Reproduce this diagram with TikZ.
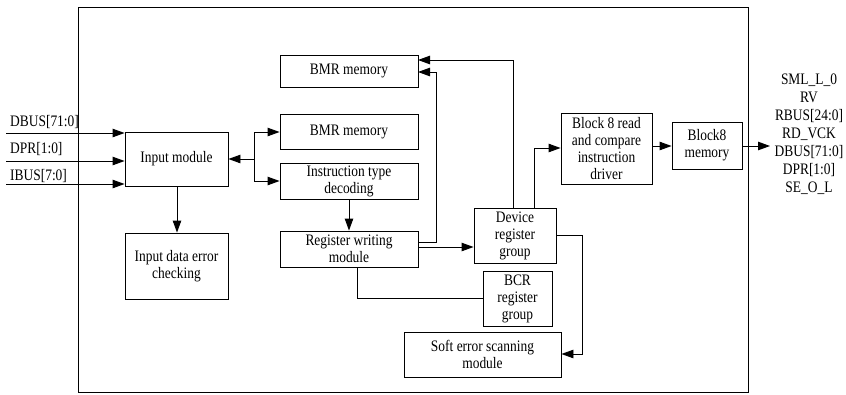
\documentclass[tikz,border=0pt]{standalone}
\usepackage{fontspec}
\setmainfont{Liberation Serif}[FakeStretch=0.84]
\usetikzlibrary{arrows.meta}
\begin{document}
\begin{tikzpicture}[x=1pt,y=-1pt,
  box/.style={draw, line width=0.9pt, inner sep=0pt, align=center, font=\fontsize{16}{17}\selectfont},
  con/.style={line width=0.9pt},
  arr/.style={line width=0.9pt, -{Triangle[length=12pt,width=8.5pt]}},
  lab/.style={font=\fontsize{16}{17}\selectfont, inner sep=0pt}]
\useasboundingbox (0,0) rectangle (846,394);
\draw[line width=0.9pt] (78,7) rectangle (748,392);
% boxes
\node[box, minimum width=103, minimum height=54] (inmod) at (176.5,159) {Input module};
\node[box, minimum width=103, minimum height=66] (inerr) at (176.5,266) {Input data error\\checking};
\node[box, minimum width=138, minimum height=32] (bmr1) at (349,71) {BMR memory};
\node[box, minimum width=138, minimum height=35] (bmr2) at (349,131.5) {BMR memory};
\node[box, minimum width=138, minimum height=36] (itd) at (349,181) {Instruction type\\decoding};
\node[box, minimum width=138, minimum height=36] (rwm) at (349,249) {Register writing\\module};
\node[box, minimum width=82, minimum height=55] (drg) at (515,235.5) {Device\\register\\group};
\node[box, minimum width=69, minimum height=55] (bcr) at (517.5,298.5) {BCR\\register\\group};
\node[box, minimum width=157, minimum height=45] (sem) at (482.5,354.5) {Soft error scanning\\module};
\node[box, minimum width=91, minimum height=71] (b8r) at (606.5,148.5) {Block 8 read\\and compare\\instruction\\driver};
\node[box, minimum width=70, minimum height=47] (b8m) at (707,145.5) {Block8\\memory};
% inputs
\coordinate (i1) at (6,133);
\coordinate (i2) at (6,161);
\coordinate (i3) at (6,184);
\draw[arr] (i1) -- (i1 -| inmod.west);
\draw[arr] (i2) -- (i2 -| inmod.west);
\draw[arr] (i3) -- (i3 -| inmod.west);
\node[lab, anchor=base west] (l1) at (10,126) {DBUS[71:0]};
\node[lab, anchor=base west] (l2) at (10,153) {DPR[1:0]};
\node[lab, anchor=base west] (l3) at (10,180) {IBUS[7:0]};
% input module connections
\draw[arr] (inmod.south -| 177,0) -- (inerr.north -| 177,0);
\coordinate (j) at (254,159);
\coordinate (jt) at (254,132);
\coordinate (jb) at (254,181);
\draw[arr] (j) -- (j -| inmod.east);
\draw[con] (jt) -- (jb);
\draw[arr] (jt) -- (jt -| bmr2.west);
\draw[arr] (jb) -- (jb -| itd.west);
\draw[arr] (itd.south) -- (rwm.north);
% register writing outputs
\coordinate (r1) at (418,242);
\coordinate (r2) at (418,247);
\draw[arr] (r1) -- (436,242) -- (436,72) -- (418,72);
\draw[arr] (r2) -- (r2 -| drg.west);
\draw[con] (357,267) -- (357,298) -- (bcr.west |- 0,298);
% device register group
\draw[arr] (513,208) -- (513,60) -- (418,60);
\draw[arr] (534,208) -- (534,148) -- (b8r.west |- 0,148);
\draw[arr] (556,235) -- (582,235) -- (582,354) -- (sem.east |- 0,354);
% block 8
\draw[arr] (b8r.east |- 0,146) -- (b8m.west |- 0,146);
\coordinate (o) at (770,146);
\draw[arr] (b8m.east |- 0,146) -- (o);
\node[lab, align=center, font=\fontsize{16}{18}\selectfont] (outs) at (809,134.5) {SML\_L\_0\\RV\\RBUS[24:0]\\RD\_VCK\\DBUS[71:0]\\DPR[1:0]\\SE\_O\_L};
\end{tikzpicture}
\end{document}
